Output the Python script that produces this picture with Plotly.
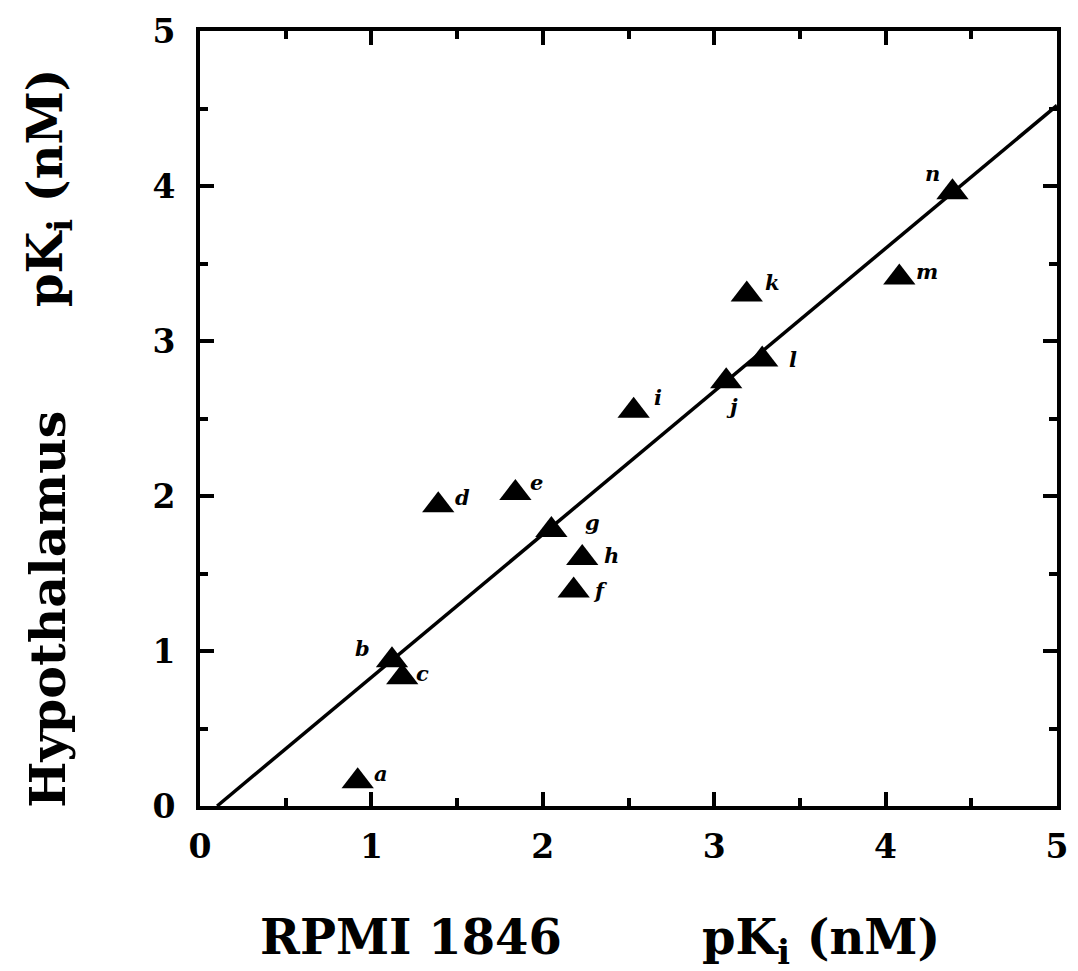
import plotly.graph_objects as go

# Data
labels = ["a", "b", "c", "d", "e", "f", "g", "h", "i", "j", "k", "l", "m", "n"]
rpmi_pki = [0.92, 1.12, 1.18, 1.39, 1.84, 2.18, 2.05, 2.23, 2.53, 3.07, 3.19, 3.28, 4.08, 4.39]
hypo_pki = [0.16, 0.94, 0.83, 1.94, 2.02, 1.39, 1.78, 1.60, 2.55, 2.74, 3.30, 2.88, 3.41, 3.96]

fit_x = [0.10, 5.0]
fit_y = [0.0, 4.52]

tick_vals = [0, 1, 2, 3, 4, 5]

# label placement (pixel offsets from each marker) -- styling only
label_dx = [23, -29, 20, 24, 21, 27, 41, 29, 24, 6, 26, 31, 28, -20]
label_dy = [-8, -12, -4, -8, -10, 0, -8, -3, -13, 25, -12, 0, -6, -19]

FONT = "DejaVu Serif"

fig = go.Figure()
fig.add_trace(go.Scatter(x=fit_x, y=fit_y, mode="lines",
                         line=dict(color="black", width=3.5), showlegend=False))
fig.add_trace(go.Scatter(
    x=rpmi_pki, y=hypo_pki, mode="markers",
    marker=dict(symbol="triangle-up", size=28, color="black"),
    showlegend=False))

annotations = []
for lab, xv, yv, dx, dy in zip(labels, rpmi_pki, hypo_pki, label_dx, label_dy):
    annotations.append(dict(
        text="<b><i>" + lab + "</i></b>", x=xv, y=yv, xref="x", yref="y",
        xshift=dx, yshift=-dy, showarrow=False, xanchor="center", yanchor="middle",
        font=dict(family=FONT, size=21, color="black")))

annotations += [
    dict(text="<b>RPMI 1846</b>", x=0.0677, y=-0.130, xref="paper", yref="paper",
         xanchor="left", yanchor="top", showarrow=False,
         font=dict(family=FONT, size=48, color="black")),
    dict(text="<b>pK<sub>i</sub> (nM)</b>", x=0.583, y=-0.130, xref="paper", yref="paper",
         xanchor="left", yanchor="top", showarrow=False,
         font=dict(family=FONT, size=48, color="black")),
    dict(text="<b>Hypothalamus</b>", x=-0.177, y=-0.005, xref="paper", yref="paper",
         xanchor="center", yanchor="bottom", showarrow=False, textangle=-90,
         font=dict(family=FONT, size=49, color="black")),
    dict(text="<b>pK<sub>i</sub> (nM)</b>", x=-0.177, y=0.954, xref="paper", yref="paper",
         xanchor="center", yanchor="top", showarrow=False, textangle=-90,
         font=dict(family=FONT, size=48, color="black")),
]

axis_common = dict(
    range=[0, 5], tickvals=tick_vals, ticks="inside", ticklen=14, tickwidth=3.5,
    tickcolor="black", showline=True, linewidth=4, linecolor="black", mirror="ticks",
    showgrid=False, zeroline=False, automargin=False,
    tickfont=dict(family=FONT, size=33, color="black", weight="bold"),
    minor=dict(dtick=0.5, ticks="inside", ticklen=8, tickwidth=3.5, tickcolor="black", showgrid=False),
)

fig.update_layout(
    width=1070, height=963,
    margin=dict(l=192, r=21, t=23, b=165),
    plot_bgcolor="white", paper_bgcolor="white",
    xaxis=dict(**axis_common, ticklabelstandoff=8),
    yaxis=dict(**axis_common, ticklabelstandoff=14),
    annotations=annotations,
)

fig.write_html("out.html")
